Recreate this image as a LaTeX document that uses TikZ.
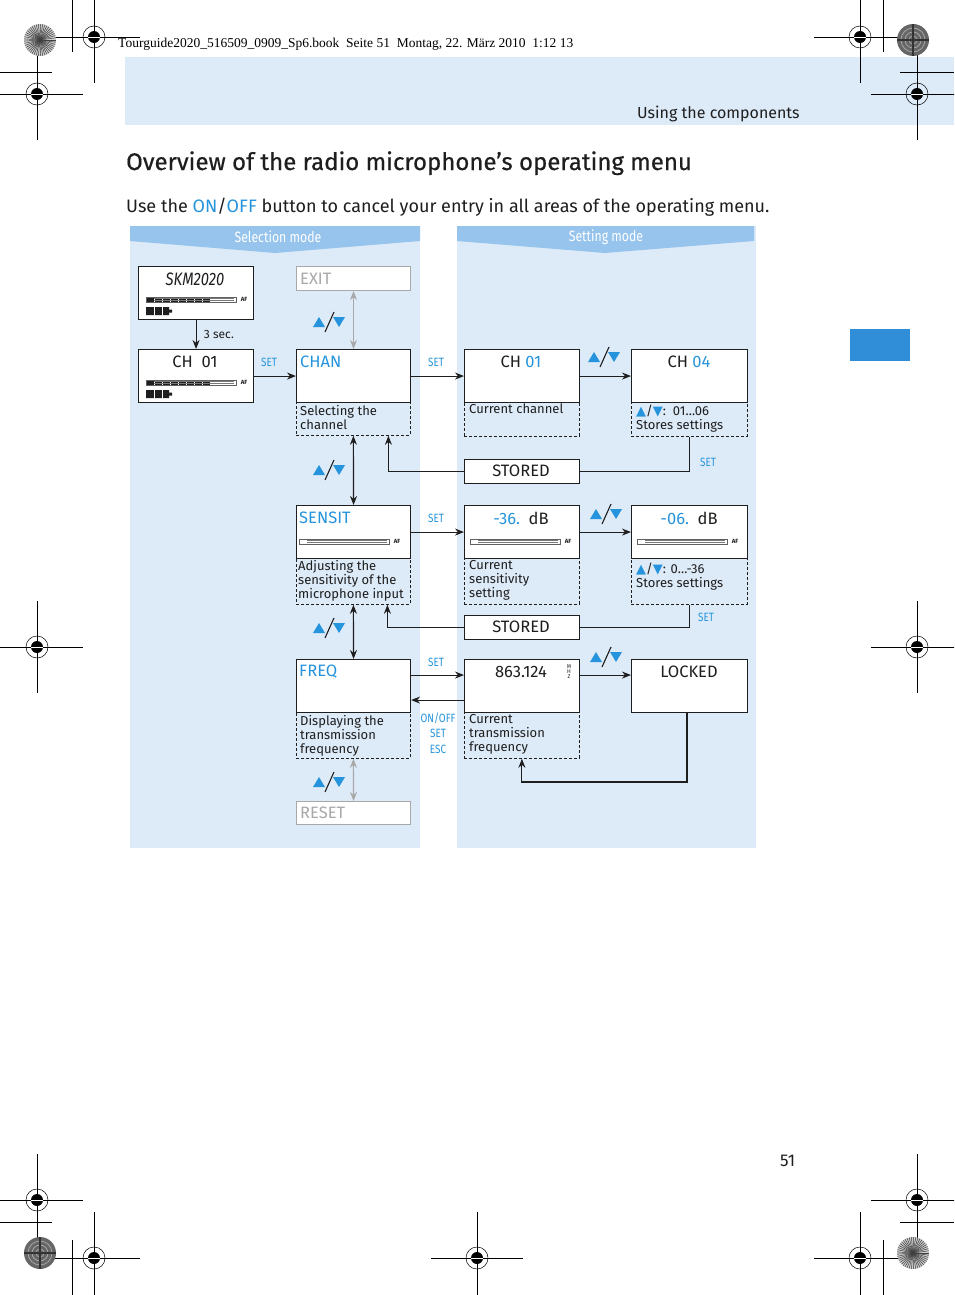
\documentclass[tikz,border=0pt]{standalone}
\usepackage{fontspec}
\setmainfont{Fira Sans}
\newfontfamily\symfont{DejaVu Sans}
\newfontfamily\timesfont{Liberation Serif}
\newfontfamily\condfont[FakeStretch=0.82]{Fira Sans}
\newfontfamily\headfont[FakeBold=0.5]{Fira Sans}
\usetikzlibrary{arrows.meta,positioning,calc}
\definecolor{sky}{RGB}{38,148,220}
\definecolor{pane}{RGB}{221,234,248}
\definecolor{banner}{RGB}{150,196,236}
\definecolor{tabblue}{RGB}{48,142,216}
\definecolor{ghost}{RGB}{168,168,168}
\definecolor{ink}{RGB}{30,30,30}
\newcommand{\pxfont}[2]{\fontsize{#1}{#2}\selectfont}
\newcommand{\updn}{{\symfont\textcolor{sky}{▲}}/{\symfont\textcolor{sky}{▼}}}
\tikzset{
  >={Stealth[length=9pt,width=7pt]},
  screen/.style={draw=ink,line width=1.1pt,fill=white,minimum width=115pt,
    minimum height=53pt,anchor=north west,inner sep=0},
  memo/.style={draw=ink,line width=0.8pt,dash pattern=on 3pt off 2pt,
    minimum width=115pt,minimum height=#1,anchor=north west,inner sep=0},
  memo/.default=46pt,
  slim/.style={draw=ink,line width=1.1pt,fill=white,minimum width=115pt,
    minimum height=24pt,anchor=north west,inner sep=0},
  ghostbox/.style={draw=ghost,line width=1.1pt,fill=white,minimum width=114pt,
    minimum height=24pt,anchor=north west,inner sep=0},
  big/.style={font=\pxfont{16.5}{18},text=ink,inner sep=0},
  desc/.style={anchor=north west,inner sep=0,align=left,font=\pxfont{13}{14},text=ink},
  keytag/.style={font=\condfont\pxfont{12}{13},text=sky,inner sep=0,align=center},
  flow/.style={->,line width=1.1pt,draw=ink},
  twoway/.style={<->,line width=1.1pt,draw=#1},
  twoway/.default=ink,
  line/.style={line width=1.1pt,draw=ink},
  % pictograms
  pics/updown/.style={code={
    \fill[sky] (-17,5) -- (-5,5) -- (-11,-5) -- cycle;
    \draw[ink,line width=1.1pt] (-5,10) -- (4,-10);
    \fill[sky] (3,-5) -- (15,-5) -- (9,5) -- cycle;
  }},
  pics/afbar/.style={code={
    \fill[white] (0,0) rectangle (90,5);
    \fill[ink] (0,0.5) rectangle (#1,4.5);
    \foreach \k in {1,...,8} \draw[white,line width=1pt] (\k*8,0.5) -- ++(0,4);
    \draw[ink!70,line width=0.5pt] (0,0) rectangle (90,5);
    \draw[ink!60,line width=0.4pt] (8,1.5) -- (88,1.5) (8,3.5) -- (88,3.5);
    \node[font=\pxfont{6}{6}\bfseries,text=ink,inner sep=0] at (98,2.5) {AF};
  }},
  pics/afbar/.default=64,
  pics/battery/.style={code={
    \fill[ink] (0,0) rectangle (23,8) (23,2.5) rectangle (26,5.5);
    \draw[white,line width=1pt] (8,0) -- (8,8) (16,0) -- (16,8);
  }},
  pics/regmark/.style={code={
    \draw[line width=0.8pt] (-46,0) -- (46,0) (0,-46) -- (0,46);
    \draw[line width=0.5pt] (0,0) circle (11pt);
    \fill (0,0) circle (6pt);
    \draw[white,line width=0.5pt] (-6,0) -- (6,0);
  }},
  pics/spokes/.style={code={
    \fill[black!20] (0,0) circle (16pt);
    \foreach \a in {0,8,...,352} \draw[black!75,line width=0.5pt] (0,0) -- (\a:16);
  }},
  pics/weave/.style={code={
    \fill[black!60] (0,0) circle (16pt);
    \foreach \r in {4,8,12} \draw[black!35,line width=0.8pt] (0,0) circle (\r pt);
    \draw[black!80,line width=1.5pt] (-16,0) -- (16,0) (0,-16) -- (0,16);
  }},
}
\begin{document}
\begin{tikzpicture}[x=1pt,y=-1pt]
  \useasboundingbox (0,0) rectangle (954,1295);
  \clip (0,0) rectangle (954,1295);
  \fill[white] (0,0) rectangle (954,1295);

  % page furniture
  \fill[pane] (125,57) rectangle (954,125);
  \node[anchor=base west,inner sep=0,font=\timesfont\pxfont{13.5}{15}] (slug) at (118,48)
    {Tourguide2020\_516509\_0909\_Sp6.book\ \ Seite 51\ \ Montag, 22. März 2010\ \ 1:12 13};
  \node[anchor=base west,inner sep=0,font=\pxfont{16}{18},text=ink] (runhead) at (637,118) {Using the components};
  \node[anchor=base west,inner sep=0,font=\headfont\pxfont{24}{26},text=ink] (title) at (126,170)
    {Overview of the radio microphone’s operating menu};
  \node[anchor=base west,inner sep=0,font=\pxfont{18}{20},text=ink] (intro) at (126,212)
    {Use the \textcolor{sky}{ON}/\textcolor{sky}{OFF} button to cancel your entry in all areas of the operating menu.};
  \fill[tabblue] (850,329) rectangle (910,361);
  \node[anchor=base west,inner sep=0,font=\pxfont{17}{20},text=ink] (pageno) at (780,1166) {51};

  % panels
  \fill[pane] (130,226) rectangle (420,848);
  \fill[pane] (457,226) rectangle (756,848);
  \fill[banner] (130,226) -- (420,226) -- (420,241) -- (275,253) -- (130,241) -- cycle;
  \fill[banner] (457,226) -- (754,226) -- (754,241) -- (605,253) -- (457,241) -- cycle;
  \node[font=\condfont\pxfont{15}{16},text=white,inner sep=0] (selhead) at (278,237) {Selection mode};
  \node[font=\condfont\pxfont{15}{16},text=white,inner sep=0] (sethead) at (606,237) {Setting mode};

  % selection column
  \node[screen] (skm) at (138,266) {};
  \node[big,font=\condfont\pxfont{18}{18}\itshape] (skmtxt) at (195,279) {SKM2020};
  \pic at (146,297) {afbar};
  \pic at (146,307) {battery};
  \node[screen] (chsel) at (138,349) {};
  \node[big] (chseltxt) at (195,362) {CH\ \ 01};
  \pic at (146,380) {afbar};
  \pic at (146,390) {battery};

  \node[ghostbox] (exit) at (296,266) {};
  \node[big,text=ghost,anchor=west] (exittxt) at (300,279) {EXIT};
  \node[screen,minimum width=114pt] (chan) at (296,349) {};
  \node[big,text=sky,anchor=west] (chantxt) at (300,362) {CHAN};
  \node[memo=33pt,minimum width=114pt] (chand) at (296,402) {};
  \node[desc] (chandtxt) at (300,405) {Selecting the\\channel};

  \node[screen,minimum width=114pt] (sensit) at (296,505) {};
  \node[big,text=sky,anchor=west] (sensittxt) at (299,518) {SENSIT};
  \pic at (299,539) {afbar=0};
  \node[memo,minimum width=114pt] (sensitd) at (296,558) {};
  \node[desc] (sensitdtxt) at (298,560) {Adjusting the\\sensitivity of the\\microphone input};

  \node[screen,minimum width=114pt] (freq) at (296,659) {};
  \node[big,text=sky,anchor=west] (freqtxt) at (299,672) {FREQ};
  \node[memo,minimum width=114pt] (freqd) at (296,712) {};
  \node[desc] (freqdtxt) at (300,715) {Displaying the\\transmission\\frequency};
  \node[ghostbox,minimum height=23pt] (reset) at (296,801) {};
  \node[big,text=ghost,anchor=west] (resettxt) at (300,813) {RESET};

  % setting column
  \node[screen] (ch1) at (464,349) {};
  \node[big] (ch1txt) at (521,362) {CH \textcolor{sky}{01}};
  \node[memo=34pt] (ch1d) at (464,402) {};
  \node[desc] (ch1dtxt) at (469,404) {Current channel};
  \node[screen,minimum width=116pt] (ch4) at (631,349) {};
  \node[big] (ch4txt) at (689,362) {CH \textcolor{sky}{04}};
  \node[memo=34pt,minimum width=116pt] (ch4d) at (631,402) {};
  \node[desc] (ch4dtxt) at (636,405) {\updn:\ \ 01…06\\Stores settings};
  \node[slim] (stored1) at (464,459) {};
  \node[big] (stored1txt) at (521,471) {STORED};

  \node[screen] (db36) at (464,505) {};
  \node[big] (db36txt) at (521,518) {\textcolor{sky}{-36.}\ \ dB};
  \pic at (470,539) {afbar=0};
  \node[memo] (db36d) at (464,558) {};
  \node[desc] (db36dtxt) at (469,560) {Current\\sensitivity\\setting};
  \node[screen,minimum width=116pt] (db06) at (631,505) {};
  \node[big] (db06txt) at (689,518) {\textcolor{sky}{-06.}\ \ dB};
  \pic at (637,539) {afbar=0};
  \node[memo,minimum width=116pt] (db06d) at (631,558) {};
  \node[desc] (db06dtxt) at (636,563) {\updn: 0…-36\\Stores settings};
  \node[slim] (stored2) at (464,615) {};
  \node[big] (stored2txt) at (521,627) {STORED};

  \node[screen] (mhz) at (464,659) {};
  \node[big] (mhztxt) at (521,672) {863.124};
  \node[font=\pxfont{5.5}{5},text=ink,inner sep=0,align=center] (mhzunit) at (569,672) {M\\H\\Z};
  \node[memo] (mhzd) at (464,712) {};
  \node[desc] (mhzdtxt) at (469,714) {Current\\transmission\\frequency};
  \node[screen,minimum width=116pt] (locked) at (631,659) {};
  \node[big] (lockedtxt) at (689,672) {LOCKED};

  % connectors
  \draw[flow] (skm.south) -- (chsel.north) node[midway,right=4pt,font=\pxfont{12}{14},text=ink] {3 sec.};
  \draw[flow] (chsel.east) -- (chan.west);
  \node[keytag] (set1) at (269,362) {SET};
  \draw[twoway=ghost] (exit.south) -- (chan.north);
  \pic at (330,322) {updown};
  \draw[flow] (chan.east) -- (ch1.west);
  \node[keytag] (set2) at (436,362) {SET};
  \draw[flow] (ch1.east) -- (ch4.west);
  \pic at (605,357) {updown};
  \draw[line] (ch4d.south) |- (stored1.east);
  \node[keytag] (set3) at (708,462) {SET};
  \draw[flow] (stored1.west) -| ([xshift=35pt]chand.south);

  \draw[twoway] (chand.south) -- (sensit.north);
  \pic at (330,470) {updown};
  \draw[flow] (sensit.east) -- (db36.west);
  \node[keytag] (set4) at (436,518) {SET};
  \draw[flow] (db36.east) -- (db06.west);
  \pic at (607,514) {updown};
  \draw[line] (db06d.south) |- (stored2.east);
  \node[keytag] (set5) at (706,617) {SET};
  \draw[flow] (stored2.west) -| ([xshift=34pt]sensitd.south);

  \draw[twoway] (sensitd.south) -- (freq.north);
  \pic at (330,628) {updown};
  \draw[flow] ([yshift=11pt]freq.east) -- ([yshift=11pt]mhz.west);
  \node[keytag] (set6) at (436,662) {SET};
  \draw[flow] ([yshift=-14pt]mhz.west) -- ([yshift=-14pt]freq.east);
  \node[keytag,font=\condfont\pxfont{12}{15.5}] (escs) at (438,733) {ON/OFF\\SET\\ESC};
  \draw[twoway=ghost] (freqd.south) -- (reset.north);
  \pic at (330,782) {updown};
  \draw[flow] ([yshift=11pt]mhz.east) -- ([yshift=11pt]locked.west);
  \pic at (607,657) {updown};
  \coordinate (lockturn) at (687,782);
  \draw[flow] (lockturn |- locked.south) -- (lockturn) -| (mhzd.south);

  % crop and registration marks
  \draw[line width=0.5pt] (72,0) -- (72,52) (0,72) -- (52,72) (883,0) -- (883,52) (900,72) -- (954,72);
  \draw[line width=0.5pt] (0,1222) -- (52,1222) (72,1240) -- (72,1295) (883,1240) -- (883,1295) (900,1222) -- (954,1222);
  \foreach \p in {(94,37),(37,94),(860,37),(917,94),(37,647),(917,647),(37,1200),(917,1200),(94,1258),(477,1258),(860,1258)}
    \pic at \p {regmark};
  \pic at (40,40) {spokes};
  \pic at (913,1253) {spokes};
  \pic at (913,40) {weave};
  \pic at (40,1253) {weave};
\end{tikzpicture}
\end{document}
